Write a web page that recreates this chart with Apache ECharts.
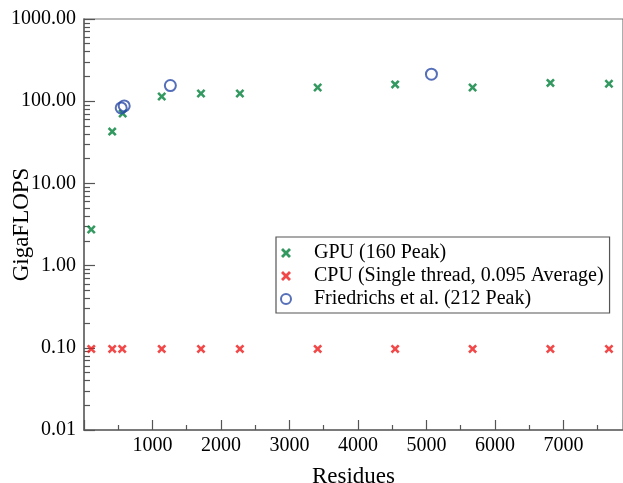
<!DOCTYPE html>
<html>
<head>
<meta charset="utf-8">
<script src="https://cdn.jsdelivr.net/npm/echarts@6/dist/echarts.min.js"></script>
<style>html,body{margin:0;padding:0;background:#fff}#c{width:623px;height:483px}</style>
</head>
<body>
<div id="c"></div>
<script>
// Data
const gpuResidues = [106, 412, 565, 1135, 1708, 2276, 3412, 4543, 5674, 6810, 7665];
const gpuGflops   = [2.75, 42.7, 70.8, 114, 124, 124, 147, 160, 147, 167, 163];
const cpuResidues = [106, 412, 558, 1135, 1708, 2276, 3412, 4543, 5674, 6810, 7665];
const cpuGflops   = [0.097, 0.097, 0.097, 0.097, 0.097, 0.097, 0.097, 0.097, 0.097, 0.097, 0.097];
const friResidues = [543, 587, 1261, 5073];
const friGflops   = [82.8, 87.7, 155, 213];
const seriesNames = ['GPU (160 Peak)', 'CPU (Single thread, 0.095 Average)', 'Friedrichs et al. (212 Peak)'];
// minor ticks of the log axis, as exponents (log10 of 2..9 × each decade)
const yMinorExp = [];
[-2, -1, 0, 1, 2].forEach(e => { for (let k = 2; k <= 9; k++) yMinorExp.push(e + Math.log10(k)); });

const FONT = 'Liberation Serif';
const crossPath = 'path://M0,2L2,0L5,3L8,0L10,2L7,5L10,8L8,10L5,7L2,10L0,8L3,5Z';
const pairs = (xs, ys) => xs.map((x, i) => [x, ys[i]]);

const chart = echarts.init(document.getElementById('c'));
chart.setOption({
  animation: false,
  backgroundColor: '#fff',
  textStyle: { fontFamily: FONT },
  grid: { left: 84, top: 19, right: 0, bottom: 53, outerBoundsMode: 'none', containLabel: false,
          show: true, borderColor: '#777', borderWidth: 1.2, backgroundColor: 'transparent' },
  legend: {
    orient: 'vertical', left: 276, top: 237,
    padding: [6, 6, 4, 4], itemGap: 3, itemWidth: 24, itemHeight: 10,
    borderColor: '#555', borderWidth: 1.2, backgroundColor: '#fff',
    textStyle: { fontFamily: FONT, fontSize: 20, color: '#000', padding: [0, 0, 0, 11] },
    data: [
      { name: seriesNames[0], icon: crossPath },
      { name: seriesNames[1], icon: crossPath },
      { name: seriesNames[2], icon: 'circle', itemStyle: { color: 'transparent', borderColor: '#2a4ba8', borderWidth: 2 } }
    ]
  },
  xAxis: {
    type: 'value', min: 0, max: 7870, interval: 1000,
    name: 'Residues', nameLocation: 'middle', nameGap: 35, nameMoveOverlap: false,
    nameTextStyle: { fontFamily: FONT, fontSize: 23, color: '#000' },
    axisLine: { show: true, onZero: false, lineStyle: { color: '#666', width: 1.5 } },
    axisTick: { show: true, inside: true, length: 10, lineStyle: { color: '#555', width: 1.2 } },
    minorTick: { show: true, splitNumber: 2, length: 5, lineStyle: { color: '#555', width: 1.2 } },
    splitLine: { show: false },
    axisLabel: {
      fontFamily: FONT, fontSize: 20, color: '#000', margin: 6,
      showMaxLabel: false,
      formatter: v => (v > 0 && v % 1000 === 0) ? String(v) : ''
    }
  },
  yAxis: [{
    type: 'log', logBase: 10, min: 0.01, max: 1000,
    name: 'GigaFLOPS', nameLocation: 'middle', nameGap: 51, nameMoveOverlap: false,
    nameTextStyle: { fontFamily: FONT, fontSize: 23, color: '#000' },
    axisLine: { show: true, onZero: false, lineStyle: { color: '#666', width: 1.5 } },
    axisTick: { show: true, inside: true, length: 11, lineStyle: { color: '#555', width: 1.2 } },
    splitLine: { show: false },
    axisLabel: { fontFamily: FONT, fontSize: 20, color: '#000', margin: 8, formatter: v => Number(v).toFixed(2) }
  }, {
    type: 'value', min: -2, max: 3, position: 'left', offset: 0,
    axisLine: { show: false, onZero: false },
    axisTick: { show: true, inside: true, length: 6, customValues: yMinorExp, lineStyle: { color: '#555', width: 1.2 } },
    axisLabel: { show: false },
    splitLine: { show: false }
  }],
  series: [
    {
      name: seriesNames[0], type: 'scatter', symbol: crossPath, symbolSize: 9,
      itemStyle: { color: '#00803a' }, data: pairs(gpuResidues, gpuGflops), z: 3
    },
    {
      name: seriesNames[1], type: 'scatter', symbol: crossPath, symbolSize: 9,
      itemStyle: { color: '#ee1c1c' }, data: pairs(cpuResidues, cpuGflops), z: 3
    },
    {
      name: seriesNames[2], type: 'scatter', symbol: 'circle', symbolSize: 11,
      itemStyle: { color: 'transparent', borderColor: '#2a4ba8', borderWidth: 2 },
      data: pairs(friResidues, friGflops), z: 4
    }
  ]
});
</script>
</body>
</html>
